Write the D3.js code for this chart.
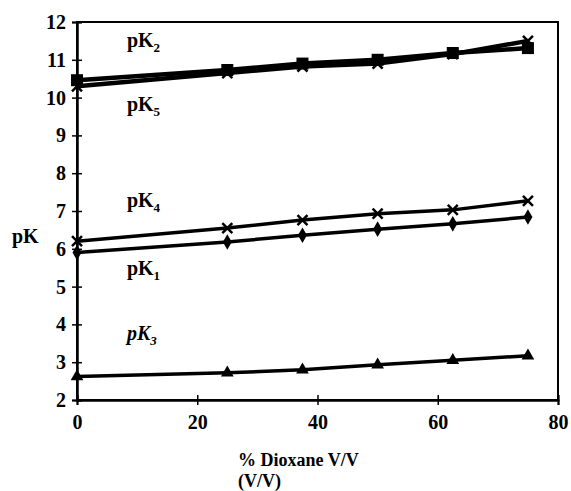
<!DOCTYPE html>
<html><head><meta charset="utf-8">
<script src="https://cdn.jsdelivr.net/npm/d3@7"></script>
<style>
html,body{margin:0;padding:0;background:#fff;}
svg{display:block;font-family:"Liberation Serif","Times New Roman",serif;font-weight:bold;}
</style></head>
<body>
<svg id="c" width="571" height="491"></svg>
<script>
// Data
const dioxane = [0, 25, 37.5, 50, 62.5, 75];
const pK1 = [5.9, 6.18, 6.36, 6.52, 6.66, 6.84];
const pK2 = [10.46, 10.73, 10.9, 11.0, 11.18, 11.31];
const pK3 = [2.62, 2.72, 2.8, 2.93, 3.05, 3.17];
const pK4 = [6.2, 6.55, 6.76, 6.93, 7.03, 7.27];
const pK5 = [10.3, 10.65, 10.82, 10.9, 11.15, 11.5];
const xTicks = [0, 20, 40, 60, 80];
const yTicks = [2, 3, 4, 5, 6, 7, 8, 9, 10, 11, 12];
const seriesNames = ["pK1", "pK2", "pK3", "pK4", "pK5"];

const svg = d3.select("#c");
const m = {l: 77, t: 22, r: 13, b: 91};
const W = 571 - m.l - m.r, H = 491 - m.t - m.b;
const x = d3.scaleLinear().domain([0, 80]).range([m.l, m.l + W]);
const y = d3.scaleLinear().domain([2, 12]).range([m.t + H, m.t]);

// frame
svg.append("rect").attr("x", m.l).attr("y", m.t).attr("width", W).attr("height", H)
  .attr("fill", "none").attr("stroke", "#000").attr("stroke-width", 2);

// axes: outward ticks with labels + inward ticks
svg.append("g").attr("transform", `translate(0,${m.t + H})`)
  .call(d3.axisBottom(x).tickValues(xTicks).tickSize(5).tickPadding(10).tickFormat(d3.format("d")));
svg.append("g").attr("transform", `translate(0,${m.t + H})`)
  .call(d3.axisBottom(x).tickValues(xTicks).tickSize(-5).tickFormat(""));
svg.append("g").attr("transform", `translate(${m.l},0)`)
  .call(d3.axisLeft(y).tickValues(yTicks).tickSize(5).tickPadding(6).tickFormat(d3.format("d")));
svg.append("g").attr("transform", `translate(${m.l},0)`)
  .call(d3.axisLeft(y).tickValues(yTicks).tickSize(-5).tickFormat(""));
svg.selectAll("g").attr("font-family", "Liberation Serif, serif");
svg.selectAll(".domain").attr("stroke", "#000").attr("stroke-width", 2);
svg.selectAll(".tick line").attr("stroke", "#000").attr("stroke-width", 1.5);
svg.selectAll(".tick text").attr("font-family", "Liberation Serif, serif")
  .attr("font-weight", "bold").attr("font-size", 20).attr("fill", "#000");

// lines
const mkLine = vals => d3.line().x((d, i) => x(dioxane[i])).y(d => y(d))(vals);
const series = [
  {v: pK2, w: 4.5}, {v: pK5, w: 4.5}, {v: pK4, w: 3.5}, {v: pK1, w: 3.5}, {v: pK3, w: 3.5}
];
series.forEach(s => svg.append("path").attr("d", mkLine(s.v))
  .attr("fill", "none").attr("stroke", "#000").attr("stroke-width", s.w));

// markers
const g = svg.append("g");
[pK5, pK4].forEach(vals => vals.forEach((d, i) => {
  const cx = x(dioxane[i]), cy = y(d), r = 5;
  g.append("path").attr("d", `M${cx-r},${cy-r}L${cx+r},${cy+r}M${cx-r},${cy+r}L${cx+r},${cy-r}`)
    .attr("stroke", "#000").attr("stroke-width", 2.5);
}));
pK2.forEach((d, i) => g.append("rect").attr("x", x(dioxane[i]) - 6).attr("y", y(d) - 6)
  .attr("width", 12).attr("height", 12).attr("fill", "#000"));
pK1.forEach((d, i) => g.append("path")
  .attr("d", d3.symbol().type(d3.symbolDiamond).size(70)())
  .attr("transform", `translate(${x(dioxane[i])},${y(d)})`).attr("fill", "#000"));
pK3.forEach((d, i) => g.append("path")
  .attr("d", d3.symbol().type(d3.symbolTriangle).size(70)())
  .attr("transform", `translate(${x(dioxane[i])},${y(d)})`).attr("fill", "#000"));

// series labels
const labs = [
  {n: "2", px: 8.3, py: 11.35, it: false},
  {n: "5", px: 8.3, py: 9.65, it: false},
  {n: "4", px: 8.3, py: 7.1, it: false},
  {n: "1", px: 8.3, py: 5.32, it: false},
  {n: "3", px: 8.3, py: 3.6, it: true}
];
labs.forEach(l => {
  const t = svg.append("text").attr("x", x(l.px)).attr("y", y(l.py))
    .attr("font-size", 20).attr("font-weight", "bold").attr("fill", "#000")
    .attr("font-style", l.it ? "italic" : "normal");
  t.append("tspan").text("pK");
  t.append("tspan").attr("font-size", 13).attr("dy", 5).text(l.n);
});

// axis titles
svg.append("text").attr("x", 12).attr("y", 243).attr("font-size", 20).attr("fill", "#000").text("pK");
svg.append("text").attr("x", 238).attr("y", 466).attr("font-size", 18).attr("fill", "#000").text("% Dioxane V/V");
svg.append("text").attr("x", 238).attr("y", 487).attr("font-size", 18).attr("fill", "#000").text("(V/V)");
</script>
</body></html>
